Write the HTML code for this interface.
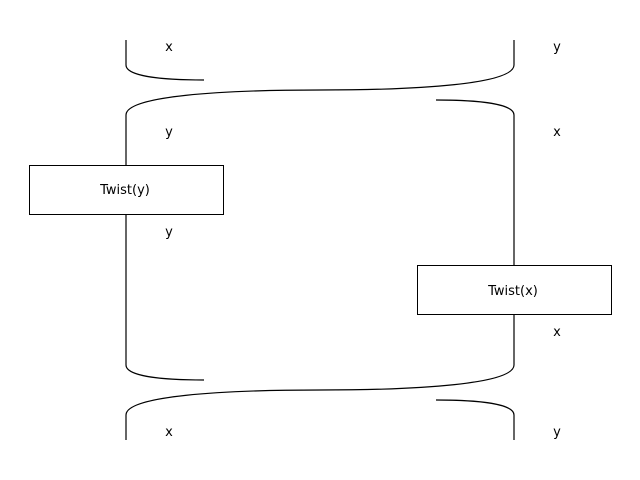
<!DOCTYPE html>
<html><head><style>body{margin:0;background:#fff}</style></head><body>
<svg width="640" height="480" xmlns="http://www.w3.org/2000/svg" style="display:block">
<g fill="none" stroke="#000" stroke-width="1.2">
<path d="M126 40 V65 C126 76 160 80 204 80"/>
<path d="M514 40 V65 C514 84 420 90 320 90 C220 90 126 96 126 115 V365 C126 376 160 380 204 380"/>
<path d="M436 100 C480 100 514 104 514 115 V365 C514 384 420 390 320 390 C220 390 126 396 126 415 V440"/>
<path d="M436 400 C480 400 514 404 514 415 V440"/>
</g>
<rect x="29.5" y="165.5" width="194" height="49" fill="#fff" stroke="#000"/>
<rect x="417.5" y="265.5" width="194" height="49" fill="#fff" stroke="#000"/>
<g font-family="DejaVu Sans, Liberation Sans, sans-serif" font-size="13" fill="#000">
<text x="125" y="194" text-anchor="middle">Twist(y)</text>
<text x="513" y="295" text-anchor="middle">Twist(x)</text>
<text x="169" y="51" text-anchor="middle">x</text>
<text x="557" y="51" text-anchor="middle">y</text>
<text x="169" y="136" text-anchor="middle">y</text>
<text x="557" y="136" text-anchor="middle">x</text>
<text x="169" y="236" text-anchor="middle">y</text>
<text x="557" y="336" text-anchor="middle">x</text>
<text x="169" y="436" text-anchor="middle">x</text>
<text x="557" y="436" text-anchor="middle">y</text>
</g>
</svg>
</body></html>
